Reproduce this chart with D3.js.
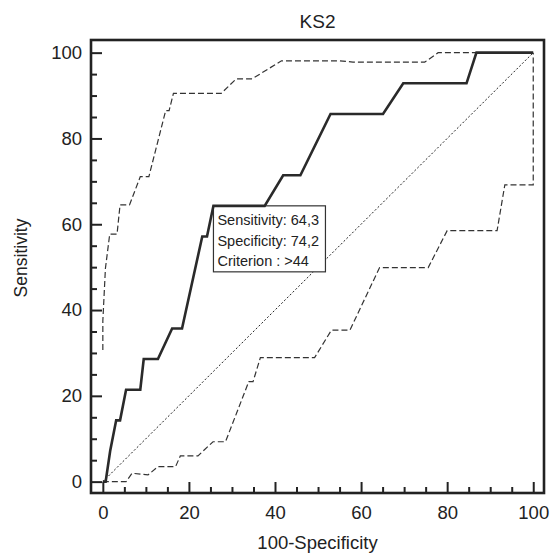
<!DOCTYPE html>
<html><head><meta charset="utf-8">
<script src="https://cdn.jsdelivr.net/npm/d3@7/dist/d3.min.js"></script>
<style>body{margin:0;background:#fff}svg{display:block}text{font-family:"Liberation Sans",Arial,sans-serif;fill:#222}</style>
</head><body><svg id="c" width="553" height="553"></svg>
<script>
const title = "KS2";
const xLabel = "100-Specificity";
const yLabel = "Sensitivity";
const majorTicks = [0, 20, 40, 60, 80, 100];
const minorTicks = [5,10,15,25,30,35,45,50,55,65,70,75,85,90,95];
const rocX = [0,0.65,1.7,3.1,4.0,5.4,8.7,9.5,12.8,16.1,18.4,23.1,24.2,25.7,37.6,41.9,45.9,52.9,65.1,69.8,84.5,86.8,100];
const rocY = [0,0,7.14,14.29,14.29,21.43,21.43,28.57,28.57,35.71,35.71,57.14,57.14,64.29,64.29,71.43,71.43,85.71,85.71,92.86,92.86,100,100];
const upperX = [0,0,0.6,1.6,3.3,4.0,6.2,8.7,10.7,14.6,15.4,16.4,27.5,31.0,34.7,41.5,55.0,58.1,74.8,77.9,100];
const upperY = [30.7,37.5,49.7,57.7,57.7,64.5,64.5,71.1,71.1,86.5,86.5,90.5,90.5,93.9,93.9,98.1,98.1,97.8,97.8,100,100];
const lowerX = [0,5.4,6.8,10.5,12.8,16.9,18.0,22.1,25.6,28.5,33.9,34.9,36.6,49.2,53.1,57.4,64.3,75.6,80.0,91.6,93.4,100,100];
const lowerY = [0,0,1.96,1.56,3.5,3.5,6.0,6.0,9.3,9.3,23.3,23.3,28.9,28.9,35.3,35.3,49.9,49.9,58.5,58.5,69.2,69.2,100];
const criterionPoint = [25.7, 64.29];
const boxLines = ["Sensitivity: 64,3", "Specificity: 74,2", "Criterion : >44"];

const L = 91, R = 544, T = 40, B = 493;
const svg = d3.select("#c");
const x = d3.scaleLinear().domain([-2.75, 102.5]).range([L, R]);
const y = d3.scaleLinear().domain([-2.65, 102.95]).range([B, T]);
const line = d3.line().x(d => x(d[0])).y(d => y(d[1]));
const zip = (a, b) => a.map((v, i) => [v, b[i]]);

// diagonal
svg.append("path").attr("d", line([[0,0],[100,100]]))
  .attr("fill","none").attr("stroke","#222").attr("stroke-width",1).attr("stroke-dasharray","2,2");
// CI bounds
[zip(upperX, upperY), zip(lowerX, lowerY)].forEach(d => {
  svg.append("path").attr("d", line(d)).attr("fill","none")
    .attr("stroke","#333").attr("stroke-width",1.2).attr("stroke-dasharray","6,3");
});

// label box
const bx = x(criterionPoint[0]), by = y(criterionPoint[1]);
svg.append("rect").attr("x", bx).attr("y", by).attr("width", 112).attr("height", 66)
  .attr("fill","#fff").attr("stroke","#333").attr("stroke-width",1.2);
boxLines.forEach((t, i) => {
  svg.append("text").attr("x", bx + 4).attr("y", by + 19.5 + i * 20.2)
    .attr("font-size", 14.5).text(t);
});

// ROC
svg.append("path").attr("d", line(zip(rocX, rocY))).attr("fill","none")
  .attr("stroke","#2a2a2a").attr("stroke-width",2.6).attr("stroke-linejoin","miter");

// axes ticks (inward)
const xAxisMajor = d3.axisBottom(x).tickValues(majorTicks).tickSize(-11).tickPadding(13);
const xAxisMinor = d3.axisBottom(x).tickValues(minorTicks).tickSize(-6).tickFormat("");
const yAxisMajor = d3.axisLeft(y).tickValues(majorTicks).tickSize(-11).tickPadding(9);
const yAxisMinor = d3.axisLeft(y).tickValues(minorTicks).tickSize(-6).tickFormat("");
function style(g){ g.select(".domain").remove(); g.selectAll("line").attr("stroke","#222").attr("stroke-width",2);
  g.selectAll("text").attr("font-size",18.5).attr("font-family",'"Liberation Sans",Arial,sans-serif').attr("fill","#222"); }
svg.append("g").attr("transform",`translate(0,${B})`).call(xAxisMajor).call(style);
svg.append("g").attr("transform",`translate(0,${B})`).call(xAxisMinor).call(style);
svg.append("g").attr("transform",`translate(${L},0)`).call(yAxisMajor).call(style);
svg.append("g").attr("transform",`translate(${L},0)`).call(yAxisMinor).call(style);

// frame
svg.append("rect").attr("x",L).attr("y",T).attr("width",R-L).attr("height",B-T)
  .attr("fill","none").attr("stroke","#222").attr("stroke-width",2.6);

// titles
svg.append("text").attr("x",(L+R)/2).attr("y",27.5).attr("text-anchor","middle").attr("font-size",19).text(title);
svg.append("text").attr("x",(L+R)/2).attr("y",549).attr("text-anchor","middle").attr("font-size",18.5).text(xLabel);
svg.append("text").attr("transform",`translate(27,258) rotate(-90)`).attr("text-anchor","middle").attr("font-size",17.5).text(yLabel);
</script></body></html>
